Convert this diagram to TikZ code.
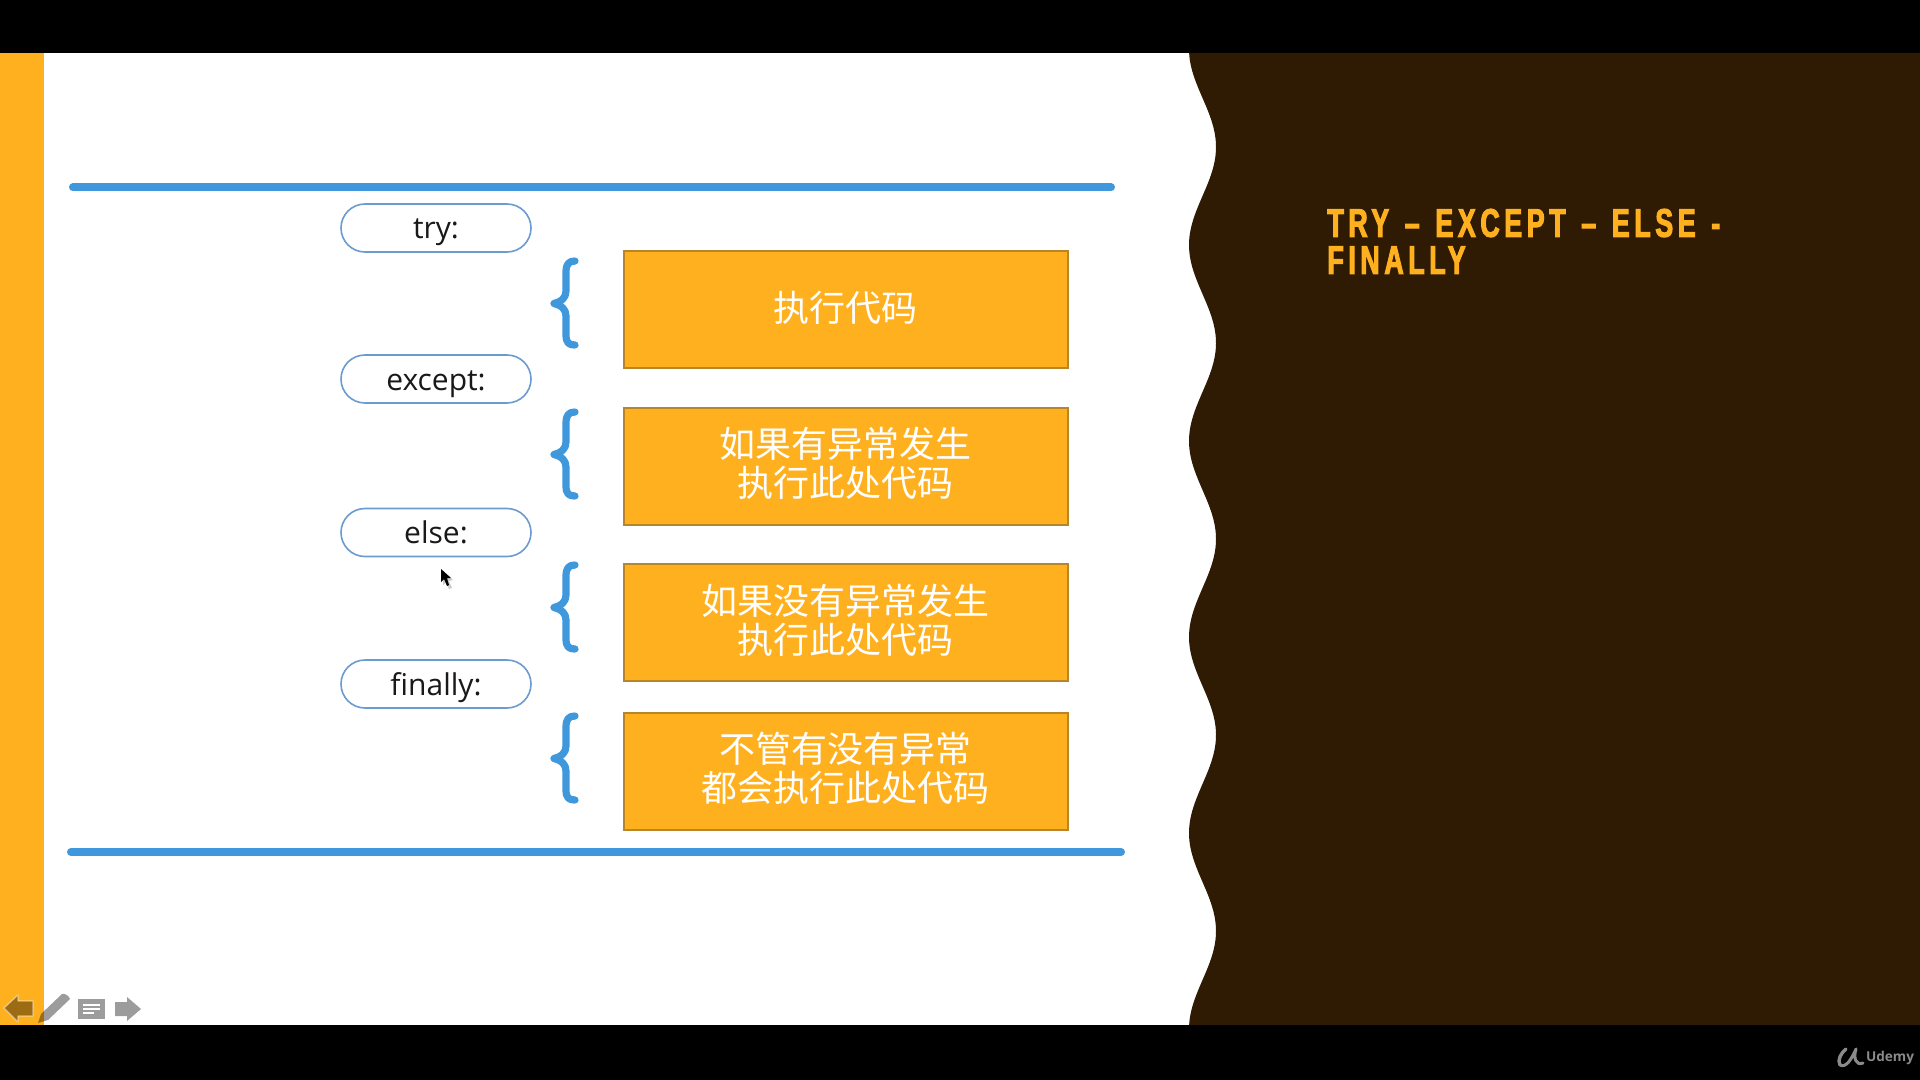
\documentclass[tikz,border=0pt]{standalone}
\usepackage{fontspec}
\setmainfont{Open Sans}
\newfontfamily\cjkfont{Noto Sans CJK SC}
\newfontfamily\titlefont[FakeStretch=0.67,LetterSpace=11.5,WordSpace=1.3,FakeBold=2.5]{Liberation Sans}
\newfontfamily\pillfont{Open Sans}
\definecolor{bandyellow}{HTML}{FFB01F}
\definecolor{darkbrown}{HTML}{2F1B03}
\definecolor{boxline}{HTML}{B8862A}
\definecolor{ruleblue}{HTML}{3F97DC}
\definecolor{pillline}{HTML}{6C9BD0}
\definecolor{logogrey}{HTML}{8A8A8A}
\tikzset{
  pill/.style={draw=pillline,line width=.8pt,fill=white,rounded corners=12pt,minimum width=95pt,minimum height=24pt,inner sep=0pt,text height=12.5pt,text depth=1.5pt,font=\pillfont\fontsize{15}{17}\selectfont,text=black!90},
  codebox/.style={draw=boxline,line width=1pt,fill=bandyellow,minimum width=222pt,minimum height=58.5pt,inner sep=0pt},
  codetext/.style={inner sep=0pt,align=center,text=white,font=\cjkfont\fontsize{18}{19.5}\selectfont},
  rulebar/.style={ruleblue,line width=4pt,line cap=round},
  bracepath/.style={ruleblue,line width=3.6pt,line cap=round,line join=round},
  icon/.style={fill=black,fill opacity=.39},
}
\begin{document}
\begin{tikzpicture}[x=0.5pt,y=-0.5pt]
\useasboundingbox (0,0) rectangle (1920,1080);
\fill[black] (0,0) rectangle (1920,1080);
\fill[white] (0,53) rectangle (1230,1025);
\fill[bandyellow] (0,53) rectangle (44,1025);
\fill[darkbrown] (1920,53) -- (1189,53) -- plot[domain=53:1025,samples=160,smooth] ({1202.5-13.5*cos((\x-49)*1.83673)},\x) -- (1920,1025) -- cycle;

\coordinate (topl) at (73,187.5); \coordinate (topr) at (1111,187.5);
\coordinate (botl) at (71,852); \coordinate (botr) at (1121,852);
\draw[rulebar] (topl) -- (topr);
\draw[rulebar] (botl) -- (botr);

\node[pill] (ptry) at (436,228) {try:};
\node[pill] (pexcept) at (436,379) {except:};
\node[pill] (pelse) at (436,532.5) {else:};
\node[pill] (pfinally) at (436,684) {finally:};

\foreach \y in {259,410,563,714}{
  \draw[bracepath] (575,\y+2) .. controls (569,\y+2) and (566,\y+5) .. (566,\y+13) -- (566,\y+32)
     .. controls (566,\y+39) and (561,\y+43) .. (554,\y+44.5)
     .. controls (561,\y+46) and (566,\y+50) .. (566,\y+57) -- (566,\y+76)
     .. controls (566,\y+84) and (569,\y+86) .. (575,\y+86);
}

\node[codebox] (b1) at (846,309.5) {};
\node[codebox] (b2) at (846,466) {};
\node[codebox] (b3) at (846,622) {};
\node[codebox] (b4) at (846,771.5) {};
\node[codetext] (t1) at (845.5,308.3) {执行代码};
\node[codetext] (t2) at (845.5,463.5) {如果有异常发生\\执行此处代码};
\node[codetext] (t3) at (845.5,620) {如果没有异常发生\\执行此处代码};
\node[codetext] (t4) at (845.5,768) {不管有没有异常\\都会执行此处代码};

\node[anchor=north west,inner sep=0pt,align=left,text=bandyellow,font=\titlefont\bfseries\fontsize{20}{18.5}\selectfont] (title) at (1327,208.5) {TRY – EXCEPT – ELSE -\\FINALLY};

% toolbar icons
\draw[icon,draw=white,draw opacity=.5,line width=.6pt,line join=round] (4,1008) -- (18,995) -- (18,1001) -- (33,1001) -- (33,1016) -- (18,1016) -- (18,1022) -- cycle;
\fill[icon] (38,1023) -- (41,1014) -- (62,994) .. controls (65,993) and (69,996) .. (70,999) -- (48,1020) -- cycle;
\fill[icon] (78,999) rectangle (105,1019);
\draw[white,line width=.6pt] (83,1005) -- (100,1005) (83,1009) -- (100,1009) (83,1013) -- (94,1013);
\fill[icon] (115,1002) -- (127,1002) -- (127,997) -- (141,1009) -- (127,1021) -- (127,1016) -- (115,1016) -- cycle;

% mouse pointer
\fill[black,opacity=.2] (443,571) -- (443,585) -- (446,582) -- (449,589) -- (452,588) -- (449,581) -- (453,580) -- cycle;
\fill[black] (441,569) -- (441,582) -- (444,579) -- (447,586) -- (449,585) -- (447,578) -- (451,578) -- cycle;

% Udemy mark
\draw[logogrey,line width=1.7pt,line cap=round,line join=round] (1846,1049) .. controls (1841,1053) and (1837,1060) .. (1840,1065);
\draw[logogrey,line width=1.5pt,line cap=round,line join=round] (1840,1065) .. controls (1846,1068) and (1851,1060) .. (1856,1049) .. controls (1853,1058) and (1856,1066) .. (1863,1063);
\node[inner sep=0pt,text=logogrey,font=\pillfont\bfseries\fontsize{6.8}{8}\selectfont] (udemy) at (1890,1058) {Udemy};
\end{tikzpicture}
\end{document}
